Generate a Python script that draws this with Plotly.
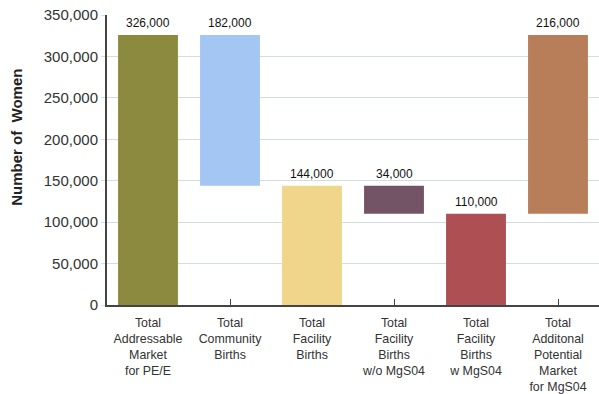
import plotly.graph_objects as go

categories = [
    "Total<br>Addressable<br>Market<br>for PE/E",
    "Total<br>Community<br>Births",
    "Total<br>Facility<br>Births",
    "Total<br>Facility<br>Births<br>w/o MgS04",
    "Total<br>Facility<br>Births<br>w MgS04",
    "Total<br>Additonal<br>Potential<br>Market<br>for MgS04",
]
values = [326000, 182000, 144000, 34000, 110000, 216000]
bases = [0, 144000, 0, 110000, 0, 110000]
colors = ["#8B8A3E", "#A3C6F2", "#F0D68A", "#725466", "#AE5053", "#B87E5A"]

FONT = "Liberation Sans, Arial, sans-serif"

fig = go.Figure(
    go.Bar(
        x=categories,
        y=values,
        base=bases,
        marker=dict(color=colors, line=dict(width=0)),
        cliponaxis=False,
    )
)

# value labels above the top of each floating bar
for cat, val, b in zip(categories, values, bases):
    fig.add_annotation(
        x=cat,
        y=b + val,
        text=f"{val:,}",
        showarrow=False,
        yanchor="bottom",
        yshift=3,
        font=dict(family=FONT, size=12, color="#111"),
    )

# vertical axis title
fig.add_annotation(
    x=-0.183,
    y=0.58,
    xref="paper",
    yref="paper",
    text="<b>Number of  Women</b>",
    textangle=-90,
    showarrow=False,
    xanchor="center",
    yanchor="middle",
    font=dict(family=FONT, size=15, color="#222"),
)

fig.update_layout(
    width=599,
    height=394,
    margin=dict(l=107, r=0, t=15, b=89),
    paper_bgcolor="white",
    plot_bgcolor="white",
    bargap=0.27,
    showlegend=False,
    font=dict(family=FONT, color="#333"),
)

fig.update_xaxes(
    showline=True,
    linecolor="#444",
    linewidth=2,
    ticks="inside",
    ticklen=6,
    tickcolor="#444",
    tickwidth=1,
    tickfont=dict(size=12.4, color="#333"),
    ticklabelstandoff=5,
    layer="below traces",
    automargin=False,
)

fig.update_yaxes(
    range=[0, 350000],
    tickvals=[0, 50000, 100000, 150000, 200000, 250000, 300000, 350000],
    tickformat=",",
    showline=True,
    linecolor="#444",
    linewidth=2,
    showgrid=True,
    gridcolor="#D3DEE3",
    gridwidth=1,
    zeroline=False,
    ticks="outside",
    ticklen=4,
    tickcolor="#D3DEE3",
    tickfont=dict(size=15, color="#333"),
    automargin=False,
)

fig.write_html("out.html")
